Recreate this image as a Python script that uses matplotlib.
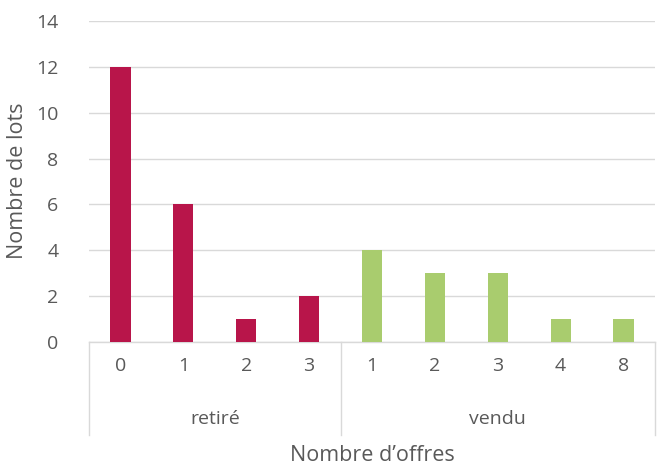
import matplotlib
matplotlib.use("Agg")
import matplotlib.pyplot as plt
import matplotlib.transforms as mtransforms

plt.rcParams['font.family'] = ['Open Sans', 'DejaVu Sans']

groups = ["retiré", "vendu"]
offers_retire = ["0", "1", "2", "3"]
offers_vendu = ["1", "2", "3", "4", "8"]
lots_retire = [12, 6, 1, 2]
lots_vendu = [4, 3, 3, 1, 1]

col_retire = "#B8154A"
col_vendu = "#A9CC6E"
text_col = "#595959"
grid_col = "#D9D9D9"

fig = plt.figure(figsize=(6.58, 4.65), dpi=100)
ax = fig.add_axes([89/658, (465-342)/465, (655-89)/658, (342-21)/465])

n1 = len(lots_retire)
n2 = len(lots_vendu)
x1 = list(range(n1))
x2 = list(range(n1, n1 + n2))
w = 0.32
ax.bar(x1, lots_retire, width=w, color=col_retire, zorder=3)
ax.bar(x2, lots_vendu, width=w, color=col_vendu, zorder=3)

ax.set_xlim(-0.5, n1 + n2 - 0.5)
ax.set_ylim(0, 14)
ax.set_yticks(range(0, 15, 2))
ax.yaxis.grid(True, color=grid_col, linewidth=1, zorder=0)
ax.set_axisbelow(True)
for s in ["top", "right", "left"]:
    ax.spines[s].set_visible(False)
ax.spines["bottom"].set_color(grid_col)
ax.spines["bottom"].set_linewidth(1)
ax.tick_params(axis="y", length=0, labelsize=14, labelcolor=text_col, pad=22)
ax.set_xticks(x1 + x2)
ax.set_xticklabels(offers_retire + offers_vendu)
ax.tick_params(axis="x", length=0, labelsize=14, labelcolor=text_col, pad=11)

axh = 342 - 21
trans = mtransforms.blended_transform_factory(ax.transData, ax.transAxes)
ybot = -93 / axh
for xs in [-0.5, n1 - 0.5, n1 + n2 - 0.5]:
    ax.plot([xs, xs], [0, ybot], transform=trans, color=grid_col, lw=1, clip_on=False)

centers = [(n1 - 1) / 2, n1 + (n2 - 1) / 2]
for g, c in zip(groups, centers):
    ax.text(c, -77 / axh, g, transform=trans, ha="center", va="center",
            fontsize=14, color=text_col)

ax.text(0.5, -113 / axh, "Nombre d\u2019offres", transform=ax.transAxes,
        ha="center", va="center", fontsize=15.5, color=text_col)
fig.text(18/658, 1 - 181/465, "Nombre de lots", rotation=90, ha="center",
         va="center", fontsize=15.5, color=text_col)

fig.savefig("out.png", dpi=100)
